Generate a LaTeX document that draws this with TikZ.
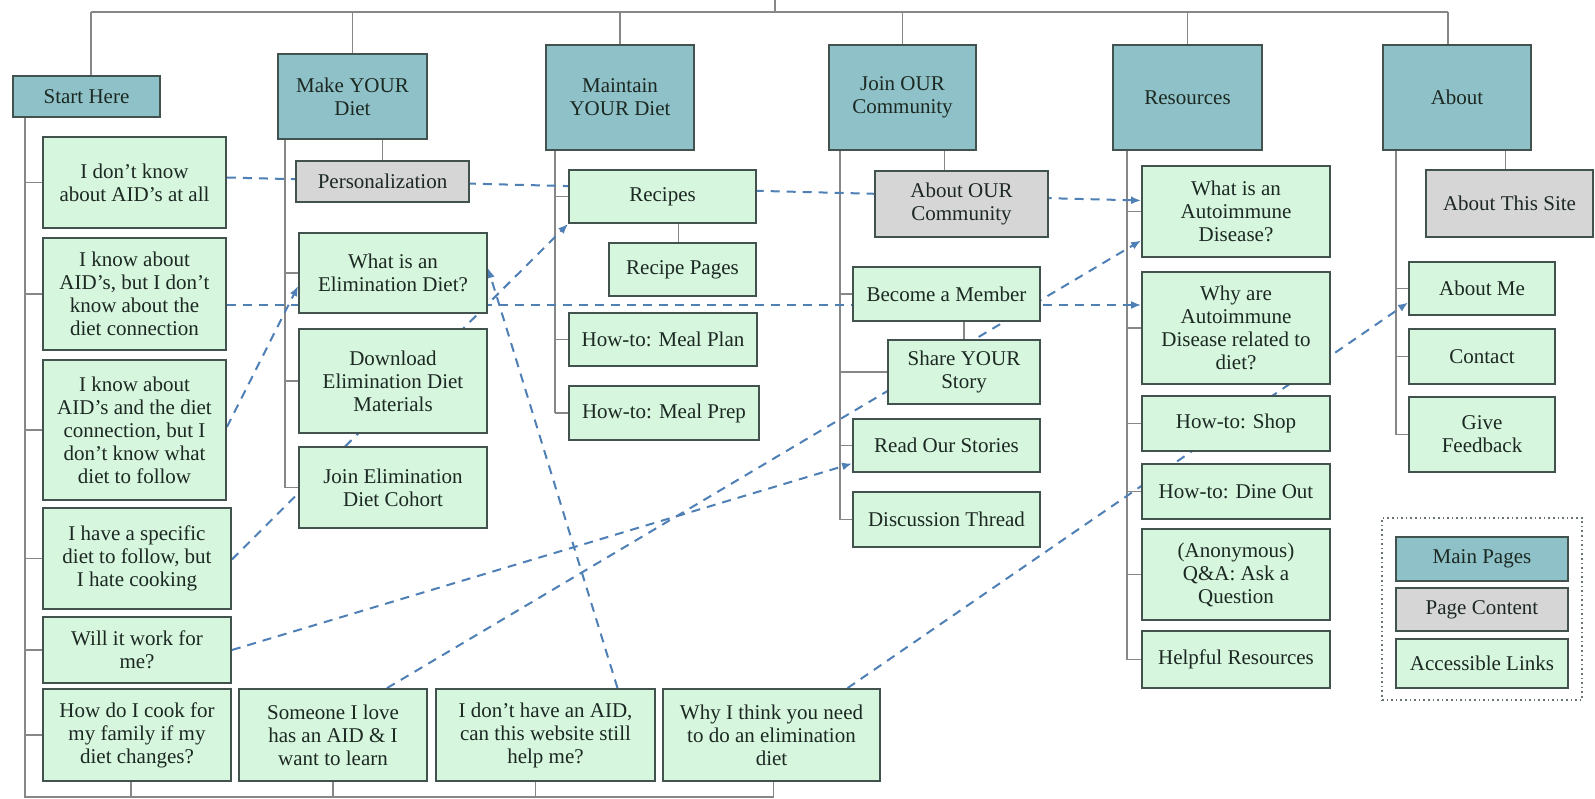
\documentclass[tikz,border=0pt]{standalone}
\usepackage{fontspec}
\setmainfont{Liberation Serif}
\usetikzlibrary{arrows.meta,calc,backgrounds}
\definecolor{teal1}{RGB}{143,194,200}
\definecolor{green1}{RGB}{214,246,222}
\definecolor{gray1}{RGB}{214,214,214}
\definecolor{bord}{RGB}{66,82,78}
\definecolor{treec}{RGB}{135,135,135}
\definecolor{dashc}{RGB}{78,128,182}
\definecolor{txt}{RGB}{28,40,34}
\newcommand\Bx[7]{\node[#2, minimum width={#5-#3}, minimum height={#6-#4}] (#1) at ({(#3+#5)/2},{(#4+#6)/2}) {#7};}
\begin{document}
\begin{tikzpicture}[x=1pt,y=-1pt,font=\fontsize{21}{23}\selectfont,
  box/.style={draw=bord, line width=1.8pt, align=center, inner sep=2pt, text=txt},
  mainb/.style={box, fill=teal1},
  pageb/.style={box, fill=gray1},
  linkb/.style={box, fill=green1},
  legbox/.style={draw=bord!80, line width=1.6pt, dash pattern=on 1.6pt off 3pt},
  tree/.style={draw=treec, line width=1.8pt},
  lnk/.style={draw=dashc, line width=2pt, dash pattern=on 9pt off 7pt, -{Latex[length=10pt,width=8pt]}}]
\useasboundingbox (0,0) rectangle (1595,799);
\begin{pgfonlayer}{background}
\fill[white] (0,0) rectangle (1595,799);
\end{pgfonlayer}
% main pages
\Bx{start}{mainb}{13}{76}{160}{117}{Start Here}
\Bx{make}{mainb}{278}{54}{427}{139}{Make YOUR\\Diet}
\Bx{maint}{mainb}{546}{45}{694}{150}{Maintain\\YOUR Diet}
\Bx{join}{mainb}{829}{45}{976}{150}{Join OUR\\Community}
\Bx{res}{mainb}{1113}{45}{1262}{150}{Resources}
\Bx{about}{mainb}{1383}{45}{1531}{150}{About}
% page content
\Bx{pers}{pageb}{296}{161}{469}{202}{Personalization}
\Bx{aboc}{pageb}{875}{171}{1048}{237}{About OUR\\Community}
\Bx{abos}{pageb}{1426}{170}{1593}{237}{About This Site}
% start here column
\Bx{q1}{linkb}{43}{137}{226}{228}{I don't know\\about AID's at all}
\Bx{q2}{linkb}{43}{238}{226}{350}{I know about\\AID's, but I don't\\know about the\\diet connection}
\Bx{q3}{linkb}{43}{360}{226}{500}{I know about\\AID's and the diet\\connection, but I\\don't know what\\diet to follow}
\Bx{q4}{linkb}{43}{508}{231}{609}{I have a specific\\diet to follow, but\\I hate cooking}
\Bx{q5}{linkb}{43}{617}{231}{683}{Will it work for\\me?}
\Bx{q6}{linkb}{43}{689}{231}{781}{How do I cook for\\my family if my\\diet changes?}
\Bx{q7}{linkb}{239}{689}{427}{781}{Someone I love\\has an AID \& I\\want to learn}
\Bx{q8}{linkb}{436}{689}{655}{781}{I don't have an AID,\\can this website still\\help me?}
\Bx{q9}{linkb}{663}{689}{880}{781}{Why I think you need\\to do an elimination\\diet}
% make your diet
\Bx{elim}{linkb}{299}{233}{487}{313}{What is an\\Elimination Diet?}
\Bx{down}{linkb}{299}{329}{487}{433}{Download\\Elimination Diet\\Materials}
\Bx{coh}{linkb}{299}{447}{487}{528}{Join Elimination\\Diet Cohort}
% maintain
\Bx{rec}{linkb}{569}{170}{756}{223}{Recipes}
\Bx{recp}{linkb}{609}{243}{756}{296}{Recipe Pages}
\Bx{plan}{linkb}{569}{313}{757}{366}{How-to: Meal Plan}
\Bx{prep}{linkb}{569}{386}{759}{440}{How-to: Meal Prep}
% join
\Bx{memb}{linkb}{853}{267}{1040}{321}{Become a Member}
\Bx{share}{linkb}{888}{340}{1040}{404}{Share YOUR\\Story}
\Bx{read}{linkb}{853}{419}{1040}{472}{Read Our Stories}
\Bx{disc}{linkb}{853}{492}{1040}{547}{Discussion Thread}
% resources
\Bx{aidq}{linkb}{1142}{166}{1330}{257}{What is an\\Autoimmune\\Disease?}
\Bx{why}{linkb}{1142}{272}{1330}{384}{Why are\\Autoimmune\\Disease related to\\diet?}
\Bx{shop}{linkb}{1142}{396}{1330}{451}{How-to: Shop}
\Bx{dine}{linkb}{1142}{464}{1330}{519}{How-to: Dine Out}
\Bx{anon}{linkb}{1142}{529}{1330}{620}{(Anonymous)\\Q\&A: Ask a\\Question}
\Bx{help}{linkb}{1142}{631}{1330}{688}{Helpful Resources}
% about
\Bx{me}{linkb}{1409}{262}{1555}{315}{About Me}
\Bx{cont}{linkb}{1409}{329}{1555}{384}{Contact}
\Bx{feed}{linkb}{1409}{397}{1555}{472}{Give\\Feedback}
% legend
\Bx{legend}{legbox}{1382}{518}{1582}{700}{}
\Bx{lmain}{mainb}{1396}{537}{1568}{581}{Main Pages}
\Bx{lpage}{pageb}{1396}{588}{1568}{631}{Page Content}
\Bx{llink}{linkb}{1396}{639}{1568}{688}{Accessible Links}
% coordinates
\coordinate (root) at (775,0);
\coordinate (busL) at (91,12);
\coordinate (busR) at (1448,12);
\coordinate (bot) at (0,797);
\coordinate (s1) at (25,0);
\coordinate (s2) at (285,0);
\coordinate (s3) at (555,0);
\coordinate (s4) at (840,0);
\coordinate (s5) at (1127,0);
\coordinate (s6) at (1396,0);
\begin{pgfonlayer}{background}
% tree
\draw[tree] (busL) -- (busR);
\draw[tree] (root) -- (root |- busL);
\draw[tree] (start.north -| busL) -- (busL);
\foreach \n in {make,maint,join,res} \draw[tree] (\n.north) -- (\n.north |- busL);
\draw[tree] (about.north -| busR) -- (busR);
\draw[tree] (start.south -| s1) -- (s1 |- bot) -- ($(q9.south |- bot)+(2,0)$);
\draw[tree] ($(q6.south)+(-6,0)$) -- ($(q6.south |- bot)+(-6,0)$);
\draw[tree] (q7.south) -- (q7.south |- bot);
\draw[tree] ($(q8.south)+(-10,0)$) -- ($(q8.south |- bot)+(-10,0)$);
\draw[tree] ($(q9.south)+(2,0)$) -- ($(q9.south |- bot)+(2,0)$);
\foreach \q in {q1,q2,q3,q4,q5,q6} \draw[tree] (\q.west) -- (\q.west -| s1);
\draw[tree] (make.south -| s2) -- (coh.west -| s2);
\foreach \q in {elim,down,coh} \draw[tree] (\q.west) -- (\q.west -| s2);
\draw[tree] (pers.north) -- (pers.north |- make.south);
\draw[tree] (maint.south -| s3) -- (prep.west -| s3);
\foreach \q in {rec,plan,prep} \draw[tree] (\q.west) -- (\q.west -| s3);
\draw[tree] ($(recp.north)+(-4,0)$) -- ($(recp.north |- rec.south)+(-4,0)$);
\draw[tree] (join.south -| s4) -- (disc.west -| s4);
\foreach \q in {memb,share,read,disc} \draw[tree] (\q.west) -- (\q.west -| s4);
\draw[tree] ($(aboc.north)+(-17,0)$) -- ($(aboc.north |- join.south)+(-17,0)$);
\draw[tree] (share.north) -- (share.north |- memb.south);
\draw[tree] (res.south -| s5) -- (help.west -| s5);
\foreach \q in {aidq,why,shop,dine,anon,help} \draw[tree] (\q.west) -- (\q.west -| s5);
\draw[tree] (about.south -| s6) -- (feed.west -| s6);
\foreach \q in {me,cont,feed} \draw[tree] (\q.west) -- (\q.west -| s6);
\draw[tree] ($(abos.north)+(-4,0)$) -- ($(abos.north |- about.south)+(-4,0)$);
% dashed links
\draw[lnk] ($(q1.east)+(0,-5)$) -- ($(aidq.west)+(0,-11)$);
\coordinate (l2) at ($(q2.east)+(0,11)$);
\draw[lnk] (l2) -- (l2 -| why.west);
\draw[lnk] ($(q3.east)+(0,-3)$) -- ($(elim.west)+(0,13)$);
\draw[lnk] ($(q4.east)+(0,1)$) -- (rec.south west);
\draw[lnk] (q5.east) -- ($(read.west)+(0,18)$);
\draw[lnk] ($(q7.north)+(54,0)$) -- ($(aidq.west)+(0,29)$);
\draw[lnk] ($(q8.north)+(72,0)$) -- ($(elim.east)+(0,-5)$);
\draw[lnk] ($(q9.north)+(76,0)$) -- ($(me.west)+(0,14)$);
\end{pgfonlayer}
\end{tikzpicture}
\end{document}
